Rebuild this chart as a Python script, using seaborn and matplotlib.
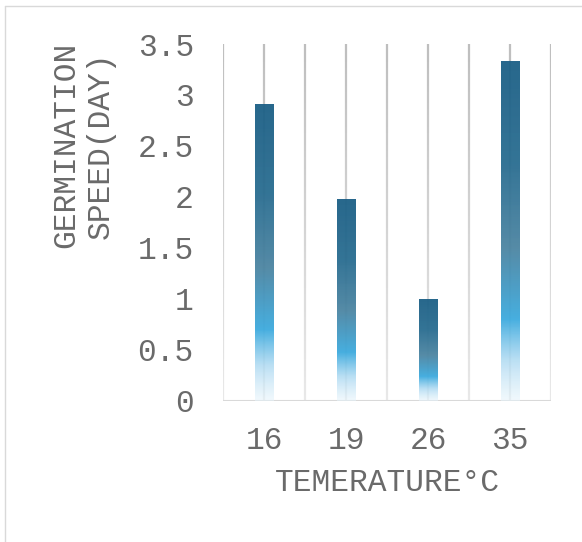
import numpy as np
import pandas as pd
import matplotlib
matplotlib.use("Agg")
import matplotlib.pyplot as plt
from matplotlib.colors import LinearSegmentedColormap, to_rgba
from matplotlib.collections import LineCollection
from matplotlib.lines import Line2D
import seaborn as sns

# Germination speed by temperature
temperatures = ["16", "19", "26", "35"]
speed_days = [2.91, 1.98, 1.0, 3.33]

y_ticks = [0, 0.5, 1, 1.5, 2, 2.5, 3, 3.5]
y_tick_labels = ["0", "0.5", "1", "1.5", "2", "2.5", "3", "3.5"]
x_title = "TEMERATURE°C"
y_title = "GERMINATION\nSPEED(DAY)"

df = pd.DataFrame({"temp": temperatures, "speed": speed_days})

sns.set_theme(style="white")
plt.rcParams["font.family"] = ["Liberation Mono", "DejaVu Sans Mono"]
TEXT = "#6A6A6A"
FS = 22.5

fig = plt.figure(figsize=(5.82, 5.42), dpi=100)
ax = fig.add_axes([223 / 582, 1 - 400.7 / 542, 328 / 582, 356.7 / 542])

sns.barplot(data=df, x="temp", y="speed", ax=ax, width=0.22,
            color="#1F5F85", saturation=1, zorder=3)

ax.set_xlim(-0.5, 3.5)
ax.set_ylim(0, 3.5)

# vertical gridlines, fading from grey at the top to pale near the axis
n_seg = 60
ys = np.linspace(3.5, 0, n_seg + 1)
top_c = np.array(to_rgba("#BEBEBE"))
bot_c = np.array(to_rgba("#E8E8E8"))
for gx in np.arange(-0.5, 3.51, 0.5):
    segs = [[(gx, ys[i]), (gx, ys[i + 1])] for i in range(n_seg)]
    t = np.linspace(0, 1, n_seg)[:, None]
    cols = top_c * (1 - t) + bot_c * t
    ax.add_collection(LineCollection(segs, colors=cols, linewidths=1.6,
                                     zorder=1, capstyle="butt"))

# baseline
ax.axhline(0, color="#D9D9D9", lw=1.5, zorder=2)

# gradient fill for each bar: dark teal at the top to pale blue at the bottom
grad = LinearSegmentedColormap.from_list("bar_grad", [
    (0.00, (0.118, 0.380, 0.530, 0.96)),
    (0.30, (0.160, 0.425, 0.565, 0.95)),
    (0.55, (0.290, 0.515, 0.630, 0.94)),
    (0.76, (0.230, 0.665, 0.870, 0.94)),
    (0.88, (0.660, 0.845, 0.945, 0.80)),
    (1.00, (0.900, 0.955, 0.985, 0.55)),
])
column = grad(np.linspace(0, 1, 256))[:, None, :]
for p in ax.patches:
    x0, w, h = p.get_x(), p.get_width(), p.get_height()
    p.set_facecolor("none")
    p.set_edgecolor("none")
    ax.imshow(column, extent=[x0, x0 + w, 0, h], origin="upper",
              aspect="auto", interpolation="bilinear", zorder=3)

ax.set_xlim(-0.5, 3.5)
ax.set_ylim(0, 3.5)

for s in ax.spines.values():
    s.set_visible(False)

ax.set_yticks(y_ticks)
ax.set_yticklabels(y_tick_labels)
ax.tick_params(axis="both", length=0, labelsize=FS, labelcolor=TEXT)
ax.tick_params(axis="y", pad=21)
ax.tick_params(axis="x", pad=18)

ax.set_xlabel(x_title, fontsize=FS, color=TEXT)
ax.xaxis.label.set_va("center")
ax.xaxis.set_label_coords(0.5, (400.7 - 483) / 356.7)

ax.set_ylabel(y_title, fontsize=FS, color=TEXT, linespacing=1.2,
              multialignment="center")
ax.yaxis.label.set_va("center")
ax.yaxis.set_label_coords((83.5 - 223) / 328, (400.7 - 145) / 356.7)

# chart frame (left and top edges)
fig.add_artist(Line2D([4.5 / 582, 4.5 / 582], [0, 1 - 6 / 542],
                      transform=fig.transFigure, color="#D9D9D9", lw=1))
fig.add_artist(Line2D([4.5 / 582, 1], [1 - 6 / 542, 1 - 6 / 542],
                      transform=fig.transFigure, color="#D9D9D9", lw=1))

fig.savefig("out.png", dpi=100)
